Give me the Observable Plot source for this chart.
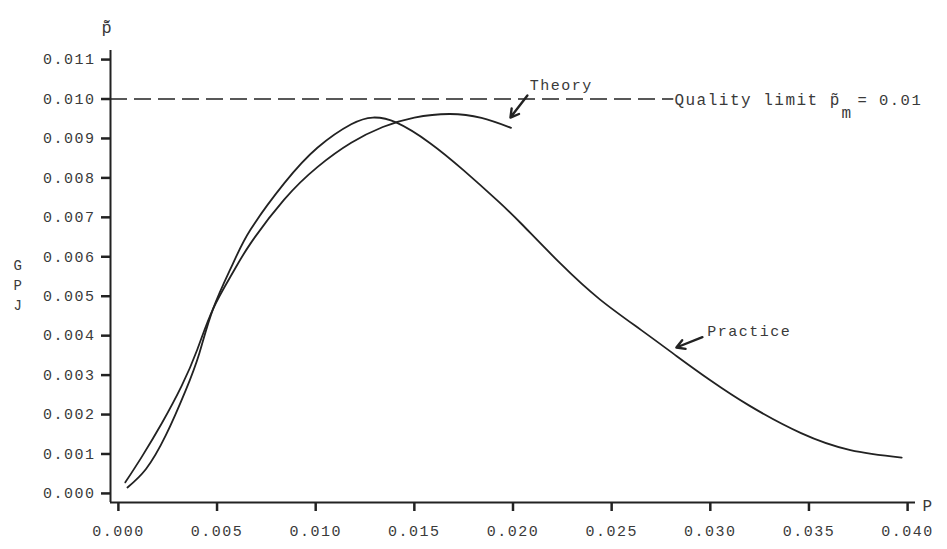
<!DOCTYPE html>
<html>
<head>
<meta charset="utf-8">
<script src="https://cdn.jsdelivr.net/npm/d3@7"></script>
<script src="https://cdn.jsdelivr.net/npm/@observablehq/plot@0.6"></script>
<style>
  html, body { margin: 0; padding: 0; background: #fff; }
  svg text { letter-spacing: 1.5px; }
</style>
</head>
<body>
<div id="chart"></div>
<script>
// Fraction defective p (x) and GPJ values (y)
const practiceP   = [0.00046, 0.0014, 0.0024, 0.0034, 0.0041, 0.0048, 0.0058, 0.0067, 0.0084, 0.0101, 0.0118, 0.0129, 0.0141, 0.0158, 0.0175, 0.0192, 0.0204, 0.0224, 0.0244, 0.0265, 0.0283, 0.0300, 0.0320, 0.0346, 0.0371, 0.0397];
const practiceGPJ = [0.00015, 0.00062, 0.00147, 0.00260, 0.00355, 0.00468, 0.00582, 0.00669, 0.00786, 0.00877, 0.00936, 0.00953, 0.00940, 0.00888, 0.00819, 0.00743, 0.00685, 0.00583, 0.00492, 0.00414, 0.00348, 0.00287, 0.00222, 0.00153, 0.00110, 0.00091];

const theoryP   = [0.00035, 0.0012, 0.0022, 0.0032, 0.0040, 0.0048, 0.0058, 0.0067, 0.0084, 0.0101, 0.0118, 0.0134, 0.0150, 0.0168, 0.0184, 0.0199];
const theoryGPJ = [0.00028, 0.00094, 0.00178, 0.00272, 0.00365, 0.00468, 0.00560, 0.00634, 0.00745, 0.00828, 0.00889, 0.00929, 0.00953, 0.00962, 0.00952, 0.00927];

const xTicks = [0.000, 0.005, 0.010, 0.015, 0.020, 0.025, 0.030, 0.035, 0.040];
const xTickLabels = ["0.000", "0.005", "0.010", "0.015", "0.020", "0.025", "0.030", "0.035", "0.040"];
const yTicks = [0.000, 0.001, 0.002, 0.003, 0.004, 0.005, 0.006, 0.007, 0.008, 0.009, 0.010, 0.011];
const yTickLabels = ["0.000", "0.001", "0.002", "0.003", "0.004", "0.005", "0.006", "0.007", "0.008", "0.009", "0.010", "0.011"];

const qualityLimit = 0.010;

const practice = practiceP.map((p, i) => ({p, g: practiceGPJ[i]}));
const theory = theoryP.map((p, i) => ({p, g: theoryGPJ[i]}));

const xMin = -0.0004, xMax = 0.0404, yMin = -0.00023, yMax = 0.01123;
const ink = "#222";
const txt = "#3a3a3a";
const font = "'Liberation Mono', 'DejaVu Sans Mono', monospace";

const chart = Plot.plot({
  width: 947,
  height: 549,
  marginLeft: 110,
  marginRight: 32,
  marginTop: 50,
  marginBottom: 47,
  style: {fontFamily: font, fontSize: "15px", color: txt, background: "#fff"},
  x: {domain: [xMin, xMax], label: null},
  y: {domain: [yMin, yMax], label: null},
  marks: [
    // axis lines
    Plot.ruleX([xMin], {y1: yMin, y2: yMax, stroke: ink, strokeWidth: 2}),
    Plot.ruleY([yMin], {x1: xMin, x2: xMax, stroke: ink, strokeWidth: 2}),
    // axes
    Plot.axisX(xTicks, {tickSize: 9, tickPadding: 14, tickFormat: d => xTickLabels[xTicks.indexOf(d)], stroke: ink, strokeWidth: 2.5, fontSize: 15, fill: txt}),
    Plot.axisY(yTicks, {tickSize: 9, tickPadding: 6, tickFormat: d => yTickLabels[yTicks.indexOf(d)], stroke: ink, strokeWidth: 2.5, fontSize: 15, fill: txt}),
    // quality limit
    Plot.ruleY([qualityLimit], {x1: xMin, x2: 0.02815, stroke: ink, strokeWidth: 1.5, strokeDasharray: "17,7"}),
    Plot.text(["Quality limit p\u0303"], {x: 0.02818, y: qualityLimit, dy: 1, textAnchor: "start", fontSize: 16, fill: txt}),
    Plot.text(["m"], {x: 0.02818, y: qualityLimit, dx: 167, dy: 14, textAnchor: "start", fontSize: 16, fill: txt}),
    Plot.text(["= 0.01"], {x: 0.02818, y: qualityLimit, dx: 183, dy: 1, textAnchor: "start", fontSize: 15.5, fill: txt}),
    // curves
    Plot.line(practice, {x: "p", y: "g", curve: "natural", stroke: ink, strokeWidth: 1.8}),
    Plot.line(theory, {x: "p", y: "g", curve: "natural", stroke: ink, strokeWidth: 1.8}),
    // annotations
    Plot.text(["Theory"], {x: 0.02245, y: 0.01034, textAnchor: "middle", fontSize: 15, fill: txt}),
    Plot.arrow([{x1: 0.02073, y1: 0.01009, x2: 0.01987, y2: 0.00953}], {x1: "x1", y1: "y1", x2: "x2", y2: "y2", stroke: ink, strokeWidth: 2.4, headLength: 9}),
    Plot.text(["Practice"], {x: 0.02985, y: 0.00411, textAnchor: "start", fontSize: 15, fill: txt}),
    Plot.arrow([{x1: 0.0296, y1: 0.00396, x2: 0.02828, y2: 0.0037}], {x1: "x1", y1: "y1", x2: "x2", y2: "y2", stroke: ink, strokeWidth: 2.4, headLength: 9}),
    // y-axis title: p with bar and tilde above
    Plot.text(["p\u0304\u0303"], {frameAnchor: "top-left", dx: -9, dy: -30, fontSize: 17, fill: txt}),
    Plot.text(["G\nP\nJ"], {frameAnchor: "left", dx: -97, y: 0.00532, lineHeight: 1.45, fontSize: 14, fill: txt}),
    Plot.text(["P"], {frameAnchor: "bottom-right", dx: 18, dy: 8, fontSize: 16, fill: txt})
  ]
});

document.getElementById("chart").appendChild(chart);
</script>
</body>
</html>
